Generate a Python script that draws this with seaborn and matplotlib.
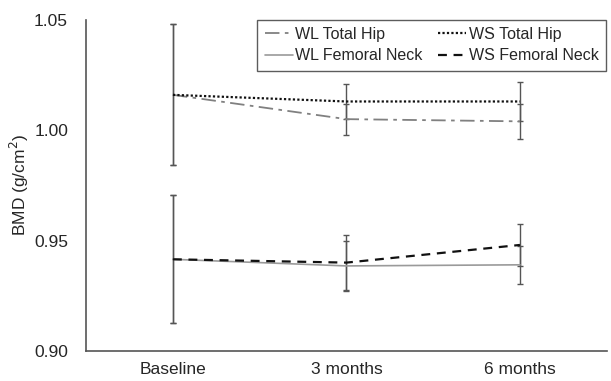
import matplotlib
matplotlib.use("Agg")
import matplotlib.pyplot as plt
import numpy as np
import pandas as pd
import seaborn as sns

sns.set_style("white")
plt.rcParams["font.family"] = ["Liberation Sans", "DejaVu Sans"]

timepoints = ["Baseline", "3 months", "6 months"]

wl_total_hip = [1.016, 1.005, 1.004]
wl_total_hip_err = [0.032, 0.007, 0.008]
ws_total_hip = [1.016, 1.013, 1.013]
ws_total_hip_err = [0.032, 0.008, 0.009]
wl_fem_neck = [0.9415, 0.9385, 0.939]
wl_fem_neck_err = [0.029, 0.0113, 0.0086]
ws_fem_neck = [0.9415, 0.940, 0.948]
ws_fem_neck_err = [0.029, 0.0125, 0.0094]

series = [
    ("WL Total Hip", wl_total_hip, wl_total_hip_err, "#808080", (0, (8, 3, 2, 3)), 1.3),
    ("WL Femoral Neck", wl_fem_neck, wl_fem_neck_err, "#9a9a9a", "-", 1.2),
    ("WS Total Hip", ws_total_hip, ws_total_hip_err, "#111111", (0, (1, 1)), 1.6),
    ("WS Femoral Neck", ws_fem_neck, ws_fem_neck_err, "#111111", (0, (4, 3)), 1.6),
]

fig = plt.figure(figsize=(6.11, 3.81), dpi=100)
ax = fig.add_axes([0.141, 0.079, 0.852, 0.869])

for name, vals, errs, color, ls, lw in series:
    df = pd.DataFrame({"time": timepoints, "bmd": vals})
    ax.errorbar(df["time"], df["bmd"], yerr=errs, fmt="none",
                ecolor="#555555", elinewidth=1.0, capsize=2.5, capthick=1.0,
                zorder=2)
    sns.lineplot(data=df, x="time", y="bmd", ax=ax, color=color,
                 linestyle=ls, linewidth=lw, label=name, zorder=3, sort=False)

ax.set_xlim(-0.5, 2.5)
ax.set_ylim(0.90, 1.05)
ax.set_yticks([0.90, 0.95, 1.00, 1.05])
ax.set_yticklabels([f"{v:.2f}" for v in [0.90, 0.95, 1.00, 1.05]])
ax.set_xlabel("")
ax.set_ylabel("BMD (g/cm$^2$)", fontsize=12.5, labelpad=2)
ax.tick_params(axis="y", length=0, labelsize=12.5, pad=13)
ax.tick_params(axis="x", length=0, labelsize=12.5, pad=8)

for side in ["top", "right"]:
    ax.spines[side].set_visible(False)
for side in ["left", "bottom"]:
    ax.spines[side].set_color("#555555")
    ax.spines[side].set_linewidth(1.2)

leg = ax.legend(ncol=2, loc="upper right", bbox_to_anchor=(0.998, 1.0),
                borderaxespad=0, frameon=True, fancybox=False,
                edgecolor="#333333", fontsize=11.5, handlelength=1.75,
                handletextpad=0.15, columnspacing=1.0, borderpad=0.45,
                labelspacing=0.4)
leg.get_frame().set_linewidth(1.0)

fig.savefig("out.png", dpi=100)
